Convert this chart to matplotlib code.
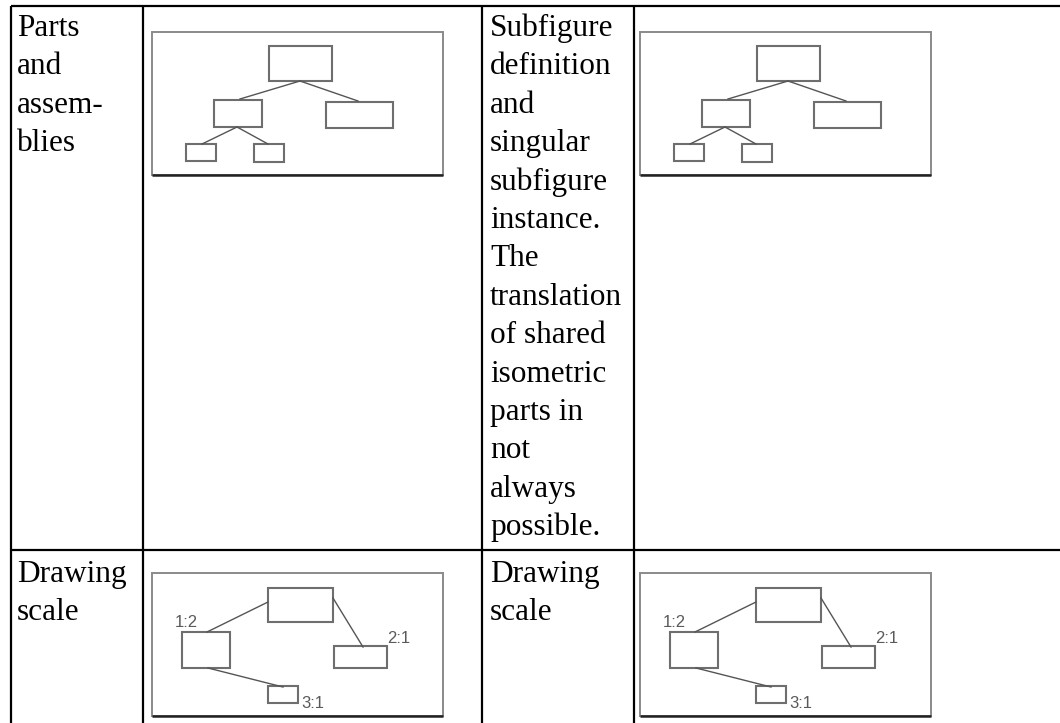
import matplotlib
matplotlib.use("Agg")
import matplotlib.pyplot as plt
from matplotlib.patches import Rectangle

# table text, one entry per printed line
parts_lines = ["Parts", "and", "assem-", "blies"]
subfigure_lines = ["Subfigure", "definition", "and", "singular", "subfigure",
                   "instance.", "The", "translation", "of shared", "isometric",
                   "parts in", "not", "always", "possible."]
scale_lines = ["Drawing", "scale"]

# assembly tree sketch (units relative to the frame corner, y down)
tree_rects = [(117, 14, 63, 35), (62, 68, 48, 27), (174, 70, 67, 26),
              (34, 112, 30, 17), (102, 112, 30, 18)]
tree_links = [((148, 49), (88, 67)), ((148, 49), (206, 69)),
              ((85, 95), (50, 112)), ((85, 95), (116, 112))]

# drawing scale sketch
scale_rects = [(116, 15, 65, 34), (30, 59, 48, 36), (182, 73, 53, 22),
               (116, 113, 30, 17)]
scale_links = [((116, 29), (55, 59)), ((181, 25), (211, 74)),
               ((56, 95), (131, 114))]
scale_labels = [("1:2", 23, 54), ("2:1", 235, 70), ("3:1", 149, 135)]

W, H = 1060, 723
fig = plt.figure(figsize=(W / 100, H / 100), dpi=100)
ax = fig.add_axes([0, 0, 1, 1])
ax.set_xlim(0, W)
ax.set_ylim(H, 0)
ax.axis("off")

FRAME_W, FRAME_H = 291, 143


def draw_sketch(ax, x0, y0, rects, links, labels=()):
    """Draw one gray framed sketch with its corner at (x0, y0)"""
    ax.add_patch(Rectangle((x0, y0), FRAME_W, FRAME_H, fill=False,
                           edgecolor="#8a8a8a", lw=1.4))
    # the darker bottom edge of the scanned frame
    ax.plot([x0, x0 + FRAME_W], [y0 + FRAME_H, y0 + FRAME_H],
            color="#222222", lw=1.8, solid_capstyle="butt")
    for rx, ry, rw, rh in rects:
        ax.add_patch(Rectangle((x0 + rx, y0 + ry), rw, rh, fill=False,
                               edgecolor="#6e6e6e", lw=1.5))
    for (ax1, ay1), (ax2, ay2) in links:
        ax.plot([x0 + ax1, x0 + ax2], [y0 + ay1, y0 + ay2],
                color="#555555", lw=1.0)
    for txt, lx, ly in labels:
        ax.text(x0 + lx, y0 + ly, txt, fontsize=12, color="#5a5a5a",
                family="Liberation Sans", ha="left", va="baseline")


def write_lines(ax, x, y_first, lines, step=38.4):
    for i, line in enumerate(lines):
        ax.text(x, y_first + i * step, line, fontsize=22.5,
                family="Liberation Serif", color="black",
                ha="left", va="baseline")


# table rules
line_kw = dict(color="black", lw=1.6, solid_capstyle="butt")
ax.plot([11, W], [6, 6], **line_kw)
ax.plot([11, W], [550, 550], **line_kw)
for cx in [11, 143, 482, 634]:
    ax.plot([cx, cx], [6, H], **line_kw)

# text cells
write_lines(ax, 17, 36, parts_lines)
write_lines(ax, 490, 36, subfigure_lines)
write_lines(ax, 17, 582, scale_lines)
write_lines(ax, 490, 582, scale_lines)

# sketches
draw_sketch(ax, 152, 32, tree_rects, tree_links)
draw_sketch(ax, 640, 32, tree_rects, tree_links)
draw_sketch(ax, 152, 573, scale_rects, scale_links, scale_labels)
draw_sketch(ax, 640, 573, scale_rects, scale_links, scale_labels)

fig.savefig("out.png", dpi=100, facecolor="white")
